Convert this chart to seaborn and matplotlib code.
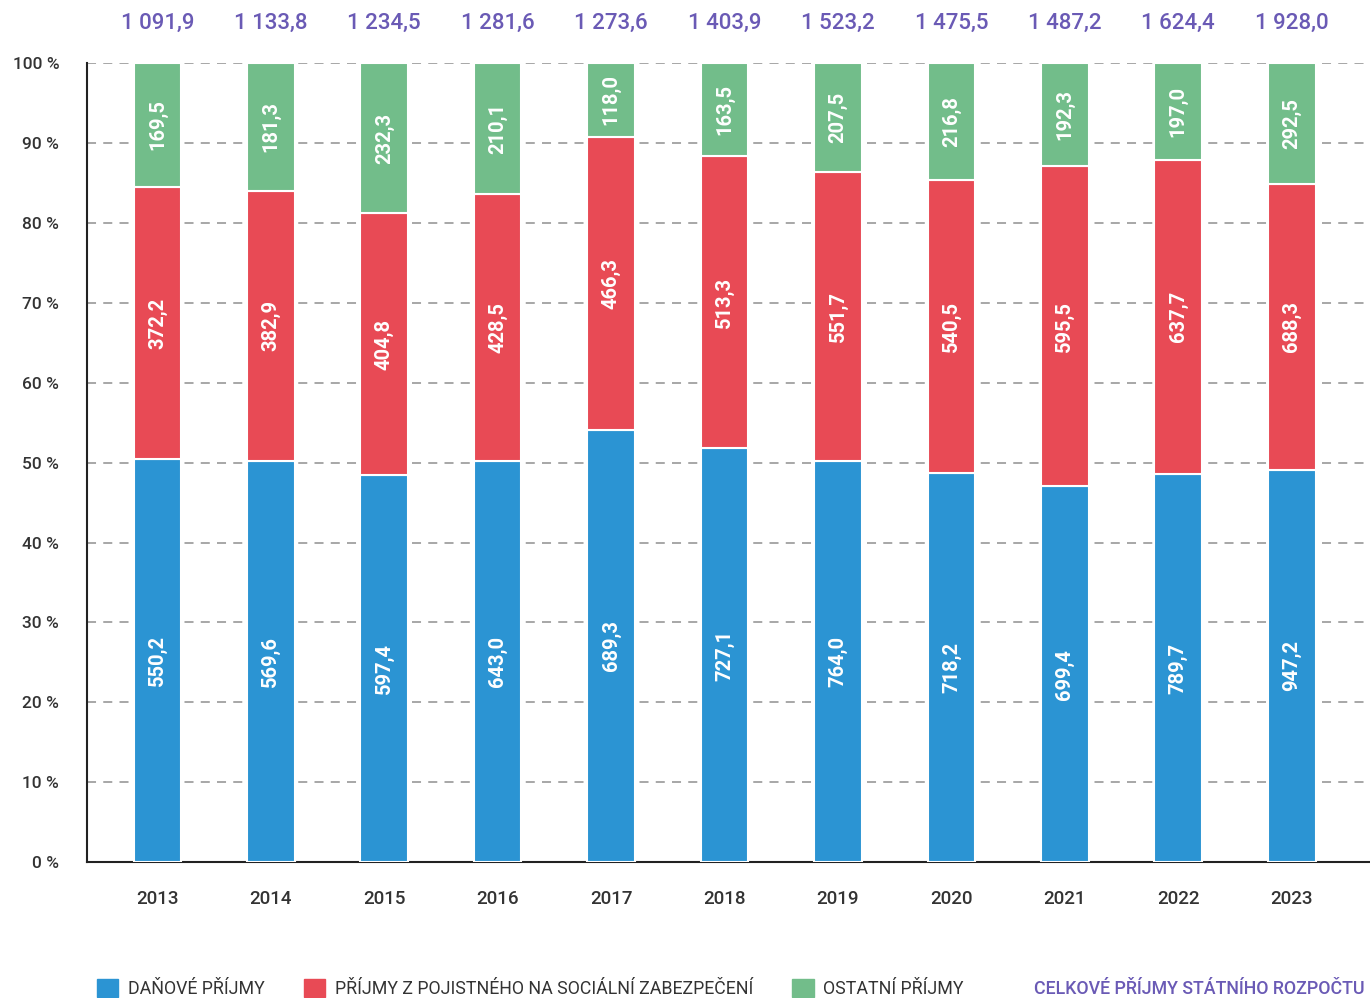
import numpy as np
import pandas as pd
import matplotlib
matplotlib.use("Agg")
import matplotlib.pyplot as plt
import seaborn as sns
from matplotlib.patches import Patch

# data (mld. Kč)
years = ["2013", "2014", "2015", "2016", "2017", "2018", "2019", "2020", "2021", "2022", "2023"]
danove = [550.2, 569.6, 597.4, 643.0, 689.3, 727.1, 764.0, 718.2, 699.4, 789.7, 947.2]
pojistne = [372.2, 382.9, 404.8, 428.5, 466.3, 513.3, 551.7, 540.5, 595.5, 637.7, 688.3]
ostatni = [169.5, 181.3, 232.3, 210.1, 118.0, 163.5, 207.5, 216.8, 192.3, 197.0, 292.5]
celkem = [1091.9, 1133.8, 1234.5, 1281.6, 1273.6, 1403.9, 1523.2, 1475.5, 1487.2, 1624.4, 1928.0]

labels = ["DAŇOVÉ PŘÍJMY", "PŘÍJMY Z POJISTNÉHO NA SOCIÁLNÍ ZABEZPEČENÍ",
          "OSTATNÍ PŘÍJMY", "CELKOVÉ PŘÍJMY STÁTNÍHO ROZPOČTU"]
colors = ["#2b94d3", "#e84a55", "#72bd8a"]
purple = "#6a5ab5"

df = pd.DataFrame({"rok": years, "dan": danove, "poj": pojistne, "ost": ostatni})
tot = df[["dan", "poj", "ost"]].sum(axis=1)
df["p_dan"] = df["dan"] / tot * 100
df["p_poj"] = df["poj"] / tot * 100
df["p_ost"] = df["ost"] / tot * 100

sns.set_theme(style="white")
plt.rcParams["font.family"] = ["Roboto", "DejaVu Sans"]

fig = plt.figure(figsize=(13.7, 9.98), dpi=100)
ax = fig.add_axes([0.0635, 0.136, 0.9365, 0.801])

w = 0.42
bottoms = [np.zeros(len(df)), df["p_dan"].values, (df["p_dan"] + df["p_poj"]).values]
for col, c, b in zip(["p_dan", "p_poj", "p_ost"], colors, bottoms):
    sns.barplot(data=df, x="rok", y=col, color=c, bottom=b, width=w,
                edgecolor="white", linewidth=1.5, saturation=1, ax=ax, zorder=3)

# values inside bars
for i in range(len(df)):
    for col, pcol, b in zip(["dan", "poj", "ost"], ["p_dan", "p_poj", "p_ost"], bottoms):
        y = b[i] + df[pcol].iloc[i] / 2
        ax.text(i, y, f"{df[col].iloc[i]:.1f}".replace(".", ","), rotation=90,
                ha="center", va="center", color="white", fontsize=14.5,
                fontweight="bold", zorder=4)
    ax.text(i, 104.9, f"{celkem[i]:,.1f}".replace(",", " ").replace(".", ","),
            ha="center", va="center", color=purple, fontsize=16, fontweight="medium",
            clip_on=False)

ax.set_xlim(-0.62, 10.69)
ax.set_ylim(0, 100)
ax.set_yticks(np.arange(0, 101, 10))
ax.set_yticklabels([f"{v} %" for v in range(0, 101, 10)], fontsize=12.5,
                   color="#333333", fontweight="medium")
for t in ax.get_xticklabels():
    t.set_fontweight("medium")
ax.tick_params(axis="x", labelsize=13.5, labelcolor="#333333", pad=20, length=0)
ax.tick_params(axis="y", pad=20, length=0)
ax.set_xlabel("")
ax.set_ylabel("")
ax.grid(axis="y", color="#a0a0a0", linestyle=(0, (5, 4)), linewidth=1.3, zorder=0)
for s in ["top", "right"]:
    ax.spines[s].set_visible(False)
ax.spines["left"].set_color("#222222")
ax.spines["bottom"].set_color("#222222")
ax.spines["left"].set_linewidth(1.5)
ax.spines["bottom"].set_linewidth(1.5)

handles = [Patch(color=c) for c in colors] + [Patch(color="none")]
leg = fig.legend(handles, labels, loc="lower left", bbox_to_anchor=(0.059, -0.016),
                 ncol=4, frameon=False, handlelength=1.2, handleheight=1.2,
                 handletextpad=0.55, columnspacing=2.2,
                 prop={"family": ["Roboto"], "size": 12.8})
for t in leg.get_texts():
    t.set_color("#333333")
leg.get_texts()[3].set_color(purple)
leg.get_texts()[3].set_fontweight("medium")
leg.legend_handles[3].set_visible(False)

fig.savefig("out.png", dpi=100)
